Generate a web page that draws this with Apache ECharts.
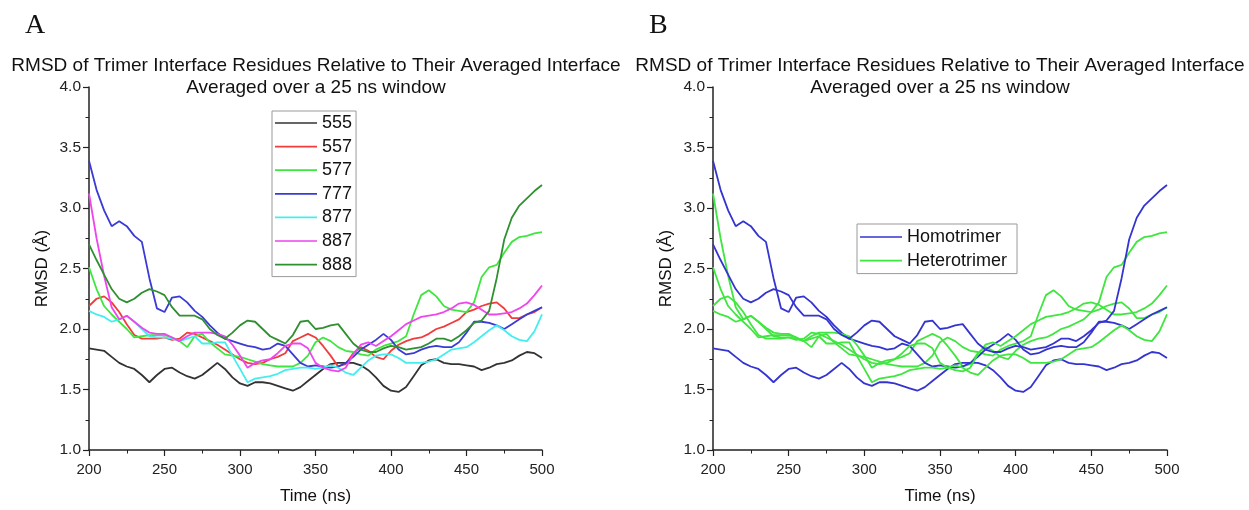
<!DOCTYPE html>
<html><head><meta charset="utf-8">
<script src="https://cdn.jsdelivr.net/npm/echarts@6/dist/echarts.min.js"></script>
<style>html,body{margin:0;padding:0;background:#fff}#c{width:1249px;height:510px}</style>
</head><body><div id="c"></div>
<script>
const times = [200,205,210,215,220,225,230,235,240,245,250,255,260,265,270,275,280,285,290,295,300,305,310,315,320,325,330,335,340,345,350,355,360,365,370,375,380,385,390,395,400,405,410,415,420,425,430,435,440,445,450,455,460,465,470,475,480,485,490,495,500];
const s555 = [1.84,1.83,1.82,1.77,1.72,1.69,1.67,1.62,1.56,1.62,1.67,1.68,1.64,1.61,1.59,1.62,1.67,1.72,1.67,1.60,1.55,1.53,1.56,1.56,1.55,1.53,1.51,1.49,1.52,1.57,1.62,1.67,1.71,1.72,1.72,1.72,1.70,1.66,1.60,1.53,1.49,1.48,1.52,1.61,1.70,1.74,1.75,1.72,1.71,1.71,1.70,1.69,1.66,1.68,1.71,1.72,1.74,1.78,1.81,1.80,1.76];
const s557 = [2.19,2.25,2.27,2.22,2.14,2.04,1.95,1.92,1.92,1.92,1.93,1.91,1.92,1.97,1.96,1.93,1.90,1.87,1.83,1.79,1.75,1.72,1.71,1.72,1.75,1.77,1.80,1.90,1.93,1.96,1.93,1.86,1.78,1.69,1.71,1.80,1.85,1.82,1.77,1.75,1.82,1.87,1.90,1.92,1.93,1.96,2.00,2.02,2.05,2.08,2.14,2.16,2.19,2.21,2.22,2.17,2.09,2.09,2.12,2.14,2.18];
const s577 = [2.51,2.33,2.19,2.12,2.06,2.00,1.93,1.94,1.95,1.95,1.95,1.93,1.90,1.85,1.94,1.96,1.89,1.84,1.79,1.78,1.77,1.75,1.73,1.71,1.70,1.69,1.69,1.69,1.72,1.78,1.89,1.93,1.90,1.85,1.82,1.81,1.79,1.78,1.83,1.86,1.88,1.90,1.94,2.12,2.28,2.32,2.27,2.19,2.16,2.15,2.14,2.22,2.43,2.51,2.53,2.63,2.72,2.76,2.77,2.79,2.80];
const s777 = [3.39,3.15,2.98,2.85,2.89,2.85,2.77,2.72,2.42,2.17,2.14,2.26,2.27,2.22,2.15,2.10,2.03,1.97,1.92,1.90,1.88,1.86,1.85,1.83,1.84,1.88,1.86,1.79,1.72,1.69,1.70,1.69,1.68,1.69,1.72,1.77,1.83,1.87,1.91,1.96,1.91,1.83,1.79,1.80,1.83,1.85,1.86,1.85,1.85,1.89,1.97,2.06,2.06,2.05,2.03,2.00,2.04,2.08,2.12,2.15,2.18];
const s877 = [2.15,2.12,2.10,2.06,2.08,2.11,2.06,2.00,1.94,1.93,1.93,1.92,1.90,1.92,1.94,1.88,1.88,1.89,1.89,1.78,1.67,1.56,1.59,1.60,1.61,1.63,1.66,1.67,1.68,1.68,1.67,1.68,1.70,1.68,1.64,1.62,1.68,1.74,1.78,1.79,1.79,1.76,1.72,1.72,1.72,1.73,1.75,1.79,1.83,1.84,1.85,1.89,1.94,1.99,2.03,1.99,1.94,1.91,1.90,1.98,2.12];
const s887 = [3.12,2.75,2.44,2.18,2.08,2.11,2.06,2.01,1.97,1.96,1.96,1.93,1.90,1.94,1.97,1.97,1.97,1.96,1.94,1.87,1.78,1.68,1.72,1.74,1.75,1.80,1.86,1.88,1.88,1.84,1.72,1.68,1.66,1.65,1.68,1.79,1.87,1.89,1.86,1.90,1.94,1.99,2.04,2.07,2.10,2.11,2.12,2.14,2.17,2.21,2.22,2.20,2.16,2.12,2.12,2.13,2.14,2.17,2.21,2.28,2.36];
const s888 = [2.70,2.57,2.45,2.33,2.25,2.22,2.25,2.30,2.33,2.31,2.28,2.18,2.11,2.11,2.11,2.08,2.00,1.95,1.92,1.97,2.03,2.07,2.06,2.00,1.94,1.91,1.88,1.95,2.06,2.07,2.00,2.01,2.03,2.04,1.96,1.88,1.83,1.81,1.81,1.84,1.86,1.85,1.83,1.84,1.85,1.88,1.92,1.92,1.90,1.94,1.99,2.05,2.07,2.15,2.42,2.74,2.92,3.02,3.08,3.14,3.19];

const names = ['555','557','577','777','877','887','888'];
const values = [s555,s557,s577,s777,s877,s887,s888];
const colorsA = ['#333333','#f23c3c','#3fe63f','#3a3ad6','#45eeee','#ee45ee','#2f902f'];
const groupB = ['Homotrimer','Heterotrimer','Heterotrimer','Homotrimer','Heterotrimer','Heterotrimer','Homotrimer'];
const legendB = ['Homotrimer','Heterotrimer'];
const colorsB = {Homotrimer:'#3434d0', Heterotrimer:'#3fe63f'};
const titleL1 = 'RMSD of Trimer Interface Residues Relative to Their Averaged Interface';
const titleL2 = 'Averaged over a 25 ns window';

function pairs(arr){ return times.map((t,i)=>[t,arr[i]]); }

const FONT = '"Liberation Sans", Arial, sans-serif';
const axisCommon = {
  axisLine:{show:true,lineStyle:{color:'#222',width:1.5}},
  axisTick:{show:true,inside:false,length:6,lineStyle:{color:'#222',width:1.2}},
  minorTick:{show:true,splitNumber:2,length:3.5,lineStyle:{color:'#222',width:1}},
  splitLine:{show:false}
};
function xAx(gi){ return Object.assign({}, axisCommon, {
  type:'value', gridIndex:gi, min:200, max:500, interval:50,
  axisLabel:{color:'#222',fontSize:15,fontFamily:FONT,margin:12},
  name:'Time (ns)', nameLocation:'middle', nameGap:38,
  nameTextStyle:{color:'#111',fontSize:17,fontFamily:FONT}
});}
function yAx(gi){ return Object.assign({}, axisCommon, {
  type:'value', gridIndex:gi, min:1.0, max:4.0, interval:0.5,
  axisLabel:{color:'#222',fontSize:15.5,fontFamily:FONT,margin:8,formatter:v=>v.toFixed(1)},
  name:'RMSD (Å)', nameLocation:'middle', nameGap:38, nameRotate:90,
  nameTextStyle:{color:'#111',fontSize:17,fontFamily:FONT}
});}

const series = [];
names.forEach((n,i)=>{
  series.push({type:'line',name:n,xAxisIndex:0,yAxisIndex:0,data:pairs(values[i]),
    symbol:'none',showSymbol:false,lineStyle:{width:1.8,color:colorsA[i]},itemStyle:{color:colorsA[i]},animation:false});
});
names.forEach((n,i)=>{
  const g = groupB[i];
  series.push({type:'line',name:g,xAxisIndex:1,yAxisIndex:1,data:pairs(values[i]),
    symbol:'none',showSymbol:false,lineStyle:{width:1.8,color:colorsB[g]},itemStyle:{color:colorsB[g]},animation:false});
});

const legendText = {color:'#111',fontSize:18,fontFamily:FONT,lineHeight:17};
const legendIcon = 'path://M0,0 L100,0 L100,4 L0,4 Z';
const option = {
  backgroundColor:'#fff',
  animation:false,
  grid:[{left:89,top:87,width:453,height:364},{left:713,top:87,width:454,height:364}],
  xAxis:[xAx(0),xAx(1)],
  yAxis:[yAx(0),yAx(1)],
  legend:[
    {data:names,left:272,top:111,orient:'vertical',icon:legendIcon,itemWidth:42,itemHeight:2,itemGap:5.6,
     padding:[3,4,3,3],borderColor:'#9a9a9a',borderWidth:1,textStyle:legendText,selectedMode:false},
    {data:legendB,left:857,top:224,orient:'vertical',icon:legendIcon,itemWidth:42,itemHeight:2,itemGap:5.6,
     padding:[4,10,4,3],borderColor:'#9a9a9a',borderWidth:1,textStyle:legendText,selectedMode:false}
  ],
  graphic:[
    {type:'text',left:25,top:12,style:{text:'A',font:'28px "Liberation Serif", "DejaVu Serif", serif',fill:'#111'}},
    {type:'text',left:649,top:12,style:{text:'B',font:'28px "Liberation Serif", "DejaVu Serif", serif',fill:'#111'}},
    {type:'text',x:316,y:56,style:{text:titleL1,textAlign:'center',font:'19px '+FONT,fill:'#111'}},
    {type:'text',x:316,y:78,style:{text:titleL2,textAlign:'center',font:'19px '+FONT,fill:'#111'}},
    {type:'text',x:940,y:56,style:{text:titleL1,textAlign:'center',font:'19px '+FONT,fill:'#111'}},
    {type:'text',x:940,y:78,style:{text:titleL2,textAlign:'center',font:'19px '+FONT,fill:'#111'}}
  ],
  series:series
};
const chart = echarts.init(document.getElementById('c'),null,{renderer:'canvas'});
chart.setOption(option);
</script></body></html>
